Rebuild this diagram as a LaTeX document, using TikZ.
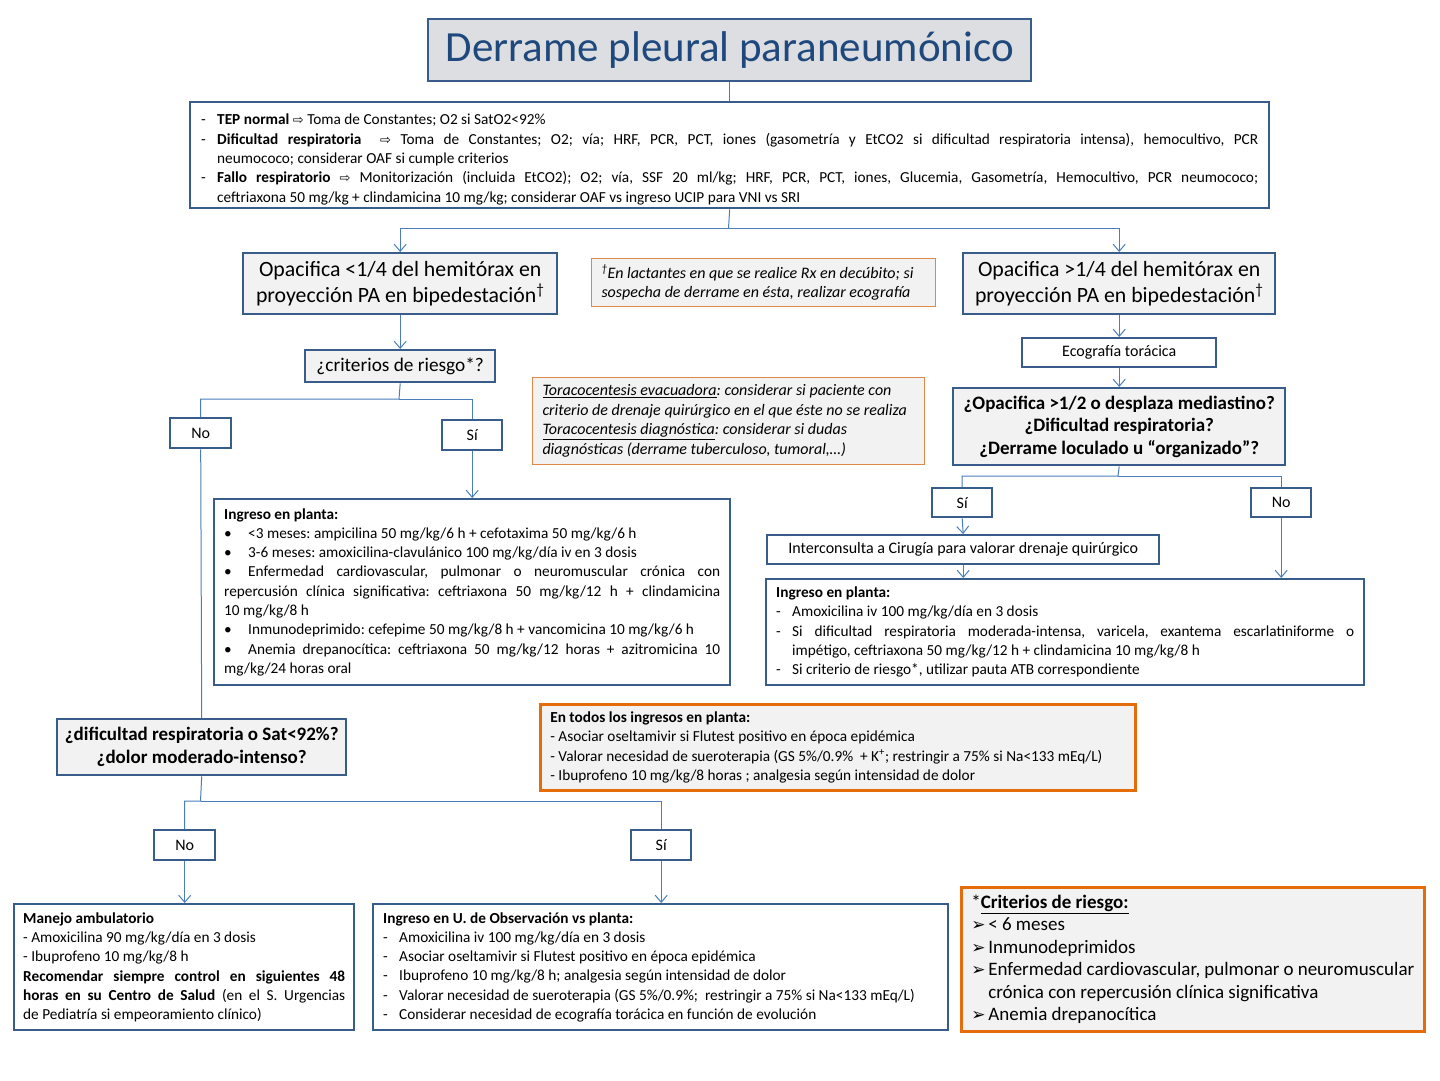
\documentclass[tikz,border=0pt]{standalone}
\usepackage{fontspec}
\setmainfont{Carlito}
\newfontfamily\symfont{DejaVu Sans}
\usetikzlibrary{arrows.meta}
\definecolor{boxblue}{HTML}{385D8A}
\definecolor{lineblue}{HTML}{4A7EBB}
\definecolor{titleblue}{HTML}{1F497D}
\definecolor{titlegray}{HTML}{DCDEE2}
\definecolor{boxgray}{HTML}{F2F2F2}
\definecolor{noteorange}{HTML}{E0884A}
\definecolor{darkorange}{HTML}{E46C0A}
\hyphenpenalty=10000
\exhyphenpenalty=10000
\emergencystretch=30pt
\frenchspacing
\newcommand{\body}{\fontsize{15.3}{19.3}\selectfont}
\newcommand{\flecha}{{\symfont\fontsize{13}{13}\selectfont ⇨}}
\newcommand{\guion}[1]{\par\hangindent=16pt\hangafter=1\noindent\makebox[16pt][l]{-}#1\par}
\newcommand{\punto}[1]{\par\noindent\makebox[24pt][l]{•}#1\par}
\newcommand{\punta}[1]{\par\hangindent=17pt\hangafter=1\noindent\makebox[17pt][l]{{\symfont\fontsize{17}{17}\selectfont ➢}}#1\par}
\begin{document}
\begin{tikzpicture}[x=1pt, y=-1pt,
  wbox/.style={draw=boxblue, line width=2.4pt, fill=white, anchor=north west, inner sep=0pt},
  gbox/.style={wbox, fill=boxgray},
  txt/.style={inner xsep=10pt, inner ysep=0pt, align=justify, font=\body},
  lab/.style={wbox, minimum width=61pt, minimum height=30pt, font=\fontsize{16}{18}\selectfont},
  nbox/.style={draw=noteorange, line width=1pt, fill=boxgray, anchor=north west, inner xsep=10pt, inner ysep=0pt, align=flush left, font=\fontsize{16}{19.5}\selectfont\itshape},
  obox/.style={draw=darkorange, line width=2.6pt, fill=boxgray, anchor=north west, inner xsep=10pt, inner ysep=0pt, align=flush left},
  conn/.style={draw=lineblue, line width=1pt},
  arr/.style={conn, -{Straight Barb[length=7pt, width=12pt]}}]
\useasboundingbox (0,0) rectangle (1440,1080);

% titulo y valoracion inicial
\node[wbox, fill=titlegray, minimum width=603pt, minimum height=62pt, text=titleblue, font=\fontsize{43}{46}\selectfont] (tit) at (427,18) {Derrame pleural paraneumónico};
\node[wbox, txt, inner xsep=11pt, text width=1057pt, minimum width=1079pt, minimum height=106pt] (tep) at (189,101) {%
\guion{\textbf{TEP normal} \flecha{} Toma de Constantes; O2 si SatO2<92\%}
\guion{\textbf{Dificultad respiratoria}\ \ \flecha{} Toma de Constantes; O2; vía; HRF, PCR, PCT, iones (gasometría y EtCO2 si dificultad respiratoria intensa), hemocultivo, PCR\linebreak neumococo; considerar OAF si cumple criterios}
\guion{\textbf{Fallo respiratorio} \flecha{} Monitorización (incluida EtCO2); O2; vía, SSF 20 ml/kg; HRF, PCR, PCT, iones, Glucemia, Gasometría, Hemocultivo, PCR neumococo;\linebreak ceftriaxona 50 mg/kg + clindamicina 10 mg/kg; considerar OAF vs ingreso UCIP para VNI vs SRI}};

% rama izquierda
\node[gbox, minimum width=314pt, minimum height=61pt, align=center, font=\fontsize{21.8}{26}\selectfont] (opl) at (242,252) {Opacifica <1/4 del hemitórax en\\proyección PA en bipedestación\textsuperscript{†}};
\node[nbox, text width=324pt, minimum width=344pt, minimum height=48pt] (nota1) at (591,258) {\textsuperscript{†}En lactantes en que se realice Rx en decúbito; si\\sospecha de derrame en ésta, realizar ecografía};
\node[gbox, minimum width=190pt, minimum height=32pt, font=\fontsize{19.3}{21}\selectfont] (crit) at (304,349) {¿criterios de riesgo*?};
\node[nbox, text width=372pt, minimum width=392pt, minimum height=87pt] (nota2) at (532,377) {\underline{Toracocentesis evacuadora}: considerar si paciente con\\criterio de drenaje quirúrgico en el que éste no se realiza\\\underline{Toracocentesis diagnóstica}: considerar si dudas\\diagnósticas (derrame tuberculoso, tumoral,…)};
\node[lab] (no1) at (169,417) {No};
\node[lab, minimum width=60pt] (si1) at (441,419) {Sí};
\node[wbox, txt, text width=496pt, minimum width=516pt, minimum height=186pt] (ing1) at (213,498) {%
\textbf{Ingreso en planta:}
\punto{<3 meses: ampicilina 50 mg/kg/6 h + cefotaxima 50 mg/kg/6 h}
\punto{3-6 meses: amoxicilina-clavulánico 100 mg/kg/día iv en 3 dosis}
\punto{Enfermedad cardiovascular, pulmonar o neuromuscular crónica con\linebreak repercusión clínica significativa: ceftriaxona 50 mg/kg/12 h + clindamicina\linebreak 10 mg/kg/8 h}
\punto{Inmunodeprimido: cefepime 50 mg/kg/8 h + vancomicina 10 mg/kg/6 h}
\punto{Anemia drepanocítica: ceftriaxona 50 mg/kg/12 horas + azitromicina 10\linebreak mg/kg/24 horas oral}};

% rama derecha
\node[gbox, minimum width=312pt, minimum height=61pt, align=center, font=\fontsize{21.8}{26}\selectfont] (opr) at (962,252) {Opacifica >1/4 del hemitórax en\\proyección PA en bipedestación\textsuperscript{†}};
\node[wbox, minimum width=194pt, minimum height=29pt, font=\fontsize{16}{18}\selectfont] (eco) at (1021,337) {Ecografía torácica};
\node[gbox, minimum width=332pt, minimum height=77pt, align=center, font=\bfseries\fontsize{19}{22.5}\selectfont] (q1) at (952,387) {¿Opacifica >1/2 o desplaza mediastino?\\¿Dificultad respiratoria?\\¿Derrame loculado u “organizado”?};
\node[lab, minimum width=60pt, minimum height=29pt] (si2) at (931,487) {Sí};
\node[lab, minimum width=60pt, minimum height=29pt] (no2) at (1250,487) {No};
\node[wbox, minimum width=392pt, minimum height=29pt, font=\fontsize{16}{18}\selectfont] (inter) at (766,534) {Interconsulta a Cirugía para valorar drenaje quirúrgico};
\node[wbox, txt, text width=578pt, minimum width=598pt, minimum height=106pt] (ing2) at (765,578) {%
\textbf{Ingreso en planta:}
\guion{Amoxicilina iv 100 mg/kg/día en 3 dosis}
\guion{Si dificultad respiratoria moderada-intensa, varicela, exantema escarlatiniforme o\linebreak impétigo, ceftriaxona 50 mg/kg/12 h + clindamicina 10 mg/kg/8 h}
\guion{Si criterio de riesgo*, utilizar pauta ATB correspondiente}};

% parte inferior
\node[gbox, minimum width=289pt, minimum height=56pt, align=center, font=\bfseries\fontsize{19}{23}\selectfont] (q2) at (56,718) {¿dificultad respiratoria o Sat<92\%?\\¿dolor moderado-intenso?};
\node[obox, text width=575pt, minimum width=595pt, minimum height=86pt, font=\body] (todos) at (539,703) {%
\textbf{En todos los ingresos en planta:}\\
- Asociar oseltamivir si Flutest positivo en época epidémica\\
- Valorar necesidad de sueroterapia (GS 5\%/0.9\% \ + K\textsuperscript{+}; restringir a 75\% si Na<133 mEq/L)\\
- Ibuprofeno 10 mg/kg/8 horas ; analgesia según intensidad de dolor};
\node[lab] (no3) at (153,829) {No};
\node[lab, minimum width=60pt] (si3) at (630,829) {Sí};
\node[wbox, txt, inner xsep=9pt, text width=322pt, minimum width=340pt, minimum height=126pt] (amb) at (13,903) {%
\textbf{Manejo ambulatorio}\par\noindent
- Amoxicilina 90 mg/kg/día en 3 dosis\par\noindent
- Ibuprofeno 10 mg/kg/8 h\par\noindent
\textbf{Recomendar siempre control en siguientes 48}\linebreak \textbf{horas en su Centro de Salud} (en el S. Urgencias\linebreak de Pediatría si empeoramiento clínico)\par};
\node[wbox, txt, text width=555pt, minimum width=575pt, minimum height=126pt] (obs) at (372,903) {%
\textbf{Ingreso en U. de Observación vs planta:}
\guion{Amoxicilina iv 100 mg/kg/día en 3 dosis}
\guion{Asociar oseltamivir si Flutest positivo en época epidémica}
\guion{Ibuprofeno 10 mg/kg/8 h; analgesia según intensidad de dolor}
\guion{Valorar necesidad de sueroterapia (GS 5\%/0.9\%; \ restringir a 75\% si Na<133 mEq/L)}
\guion{Considerar necesidad de ecografía torácica en función de evolución}};
\node[obox, text width=443pt, minimum width=463pt, minimum height=144pt, font=\fontsize{19}{22.5}\selectfont] (riesgo) at (960,886) {%
*\textbf{\underline{Criterios de riesgo:}}
\punta{< 6 meses}
\punta{Inmunodeprimidos}
\punta{Enfermedad cardiovascular, pulmonar o neuromuscular crónica con repercusión clínica significativa}
\punta{Anemia drepanocítica}};

% conectores
\draw[conn] (tit.south) -- (tep.north);
\coordinate (s1) at (728.5,228);
\draw[conn] (tep.south) -- (s1);
\draw[arr] (s1) -| (opl.north);
\draw[arr] (s1) -| (opr.north);
\draw[arr] (opl.south) -- (crit.north);
\coordinate (s2) at (399,399);
\draw[conn] (crit.south) -- (s2) -| (no1.north);
\draw[conn] (s2) -| (si1.north);
\draw[arr] (si1.south) -- (ing1.north);
\draw[conn] (no1.south) -- (q2.north);
\draw[arr] (opr.south) -- (eco.north);
\draw[arr] (eco.south) -- (q1.north);
\coordinate (s3) at (1118,476);
\draw[conn] (q1.south) -- (s3) -| (si2.north);
\draw[conn] (s3) -| (no2.north);
\draw[arr] (si2.south) -- (inter.north);
\draw[arr] (inter.south) -- (inter.south |- ing2.north);
\draw[arr] (no2.south) -- (no2.south |- ing2.north);
\coordinate (s4) at (200.5,801);
\draw[conn] (q2.south) -- (s4) -| (no3.north);
\draw[conn] (s4) -| (si3.north);
\draw[arr] (no3.south) -- (no3.south |- amb.north);
\draw[arr] (si3.south) -- (si3.south |- obs.north);
\end{tikzpicture}
\end{document}
